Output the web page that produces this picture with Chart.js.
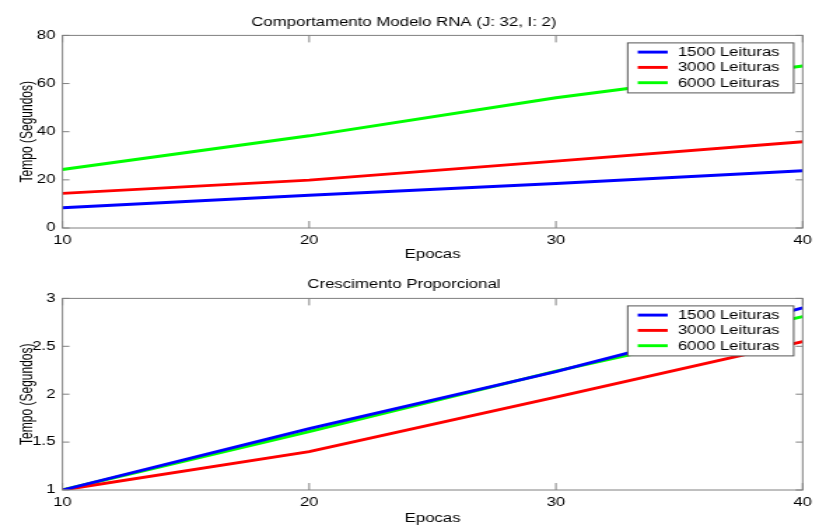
<!DOCTYPE html>
<html>
<head>
<meta charset="utf-8">
<script src="https://cdn.jsdelivr.net/npm/chart.js@4"></script>
<style>
  html, body { margin: 0; padding: 0; background: #fff; }
  canvas { display: block; }
</style>
</head>
<body>
<!-- the original figure is stretched sideways, so both canvases are drawn narrow and widened by css -->
<canvas id="chartTempo" width="585" height="262" style="width:819px;height:262px"></canvas>
<canvas id="chartProp" width="585" height="265" style="width:819px;height:265px"></canvas>
<script>
const epocas = [10, 20, 30, 40];
const nomes = ["1500 Leituras", "3000 Leituras", "6000 Leituras"];
const cores = ["#0000ff", "#ff0000", "#00ff00"];

// top panel, seconds
const tempo1500 = [8.4, 13.6, 18.5, 23.8];
const tempo3000 = [14.4, 19.9, 27.8, 35.8];
const tempo6000 = [24.3, 38.3, 54.1, 67.3];

// bottom panel, ratio to the 10 epoch run
const prop1500 = [1, 1.64, 2.235, 2.90];
const prop3000 = [1, 1.40, 1.97, 2.55];
const prop6000 = [1, 1.61, 2.24, 2.81];

const FONT = "'Liberation Sans', Arial, sans-serif";
const LW = 2.9;

function byId(id){ return document.getElementById(id); }
function pts(ys){ return ys.map((y, i) => ({ x: epocas[i], y })); }

// box round the plot, inward ticks on all four sides, legend in the top right corner
const matlabAxes = {
  id: "matlabAxes",
  afterDatasetsDraw(chart){
    const { ctx, chartArea: a, scales } = chart;
    ctx.save();
    ctx.strokeStyle = "#808080";
    ctx.lineWidth = 1;
    ctx.strokeRect(a.left, a.top, a.right - a.left, a.bottom - a.top);
    ctx.beginPath();
    scales.x.ticks.forEach(t => {
      const px = scales.x.getPixelForValue(t.value);
      ctx.moveTo(px, a.bottom); ctx.lineTo(px, a.bottom - 7);
      ctx.moveTo(px, a.top); ctx.lineTo(px, a.top + 7);
    });
    scales.y.ticks.forEach(t => {
      const py = scales.y.getPixelForValue(t.value);
      ctx.moveTo(a.left, py); ctx.lineTo(a.left + 5, py);
      ctx.moveTo(a.right, py); ctx.lineTo(a.right - 5, py);
    });
    ctx.stroke();

    // legend
    const bw = 118.6, bh = 50;
    const bx = a.right - 6.4 - bw, by = a.top + 7.5;
    ctx.fillStyle = "#fff";
    ctx.fillRect(bx, by, bw, bh);
    ctx.strokeStyle = "#555";
    ctx.strokeRect(bx, by, bw, bh);
    ctx.font = "12px " + FONT;
    ctx.textBaseline = "middle";
    ctx.textAlign = "left";
    chart.data.datasets.forEach((ds, i) => {
      const y = by + 9.2 + i * 15.3;
      ctx.strokeStyle = ds.borderColor;
      ctx.lineWidth = LW;
      ctx.beginPath();
      ctx.moveTo(bx + 7.2, y); ctx.lineTo(bx + 28.6, y);
      ctx.stroke();
      ctx.fillStyle = "#000";
      ctx.fillText(ds.label, bx + 35.8, y + 0.5);
    });
    ctx.restore();
  }
};

function mkChart(id, titulo, valores, yMin, yMax, yStep, tituloPad, xAltura, xTituloPad){
  const el = byId(id); if (!el) return null;
  return new Chart(el.getContext("2d"), {
    type: "line",
    data: {
      datasets: valores.map((v, i) => ({
        label: nomes[i],
        data: pts(v),
        borderColor: cores[i],
        backgroundColor: cores[i],
        borderWidth: LW,
        pointRadius: 0,
        tension: 0,
        fill: false
      }))
    },
    options: {
      responsive: false,
      animation: false,
      devicePixelRatio: 1,
      layout: { padding: { left: 0, right: 8, top: 0, bottom: 0 } },
      plugins: {
        legend: { display: false },
        tooltip: { enabled: false },
        title: {
          display: true, text: titulo, color: "#000",
          font: { family: FONT, size: 12, weight: "normal" },
          padding: tituloPad
        }
      },
      scales: {
        x: {
          type: "linear", min: 10, max: 40,
          grid: { display: false, drawTicks: false },
          border: { display: false },
          ticks: { stepSize: 10, color: "#000", padding: 5, maxRotation: 0,
                   font: { family: FONT, size: 12 } },
          title: { display: true, text: "Epocas", color: "#000",
                   font: { family: FONT, size: 12 }, padding: xTituloPad },
          afterFit(s){ s.height = xAltura; }
        },
        y: {
          min: yMin, max: yMax,
          grid: { display: false, drawTicks: false },
          border: { display: false },
          ticks: { stepSize: yStep, color: "#000", padding: 5,
                   font: { family: FONT, size: 12 },
                   callback: v => String(v) },
          title: { display: true, text: "Tempo (Segundos)", color: "#000",
                   font: { family: FONT, size: 12 }, padding: { top: 12, bottom: 0 } },
          afterFit(s){ s.width = 44.6; }
        }
      }
    },
    plugins: [matlabAxes]
  });
}

mkChart("chartTempo", "Comportamento Modelo RNA (J: 32, I: 2)",
  [tempo1500, tempo3000, tempo6000], 0, 80, 20,
  { top: 15, bottom: 6 }, 34, { top: 0, bottom: 0 });

mkChart("chartProp", "Crescimento Proporcional",
  [prop1500, prop3000, prop6000], 1, 3, 0.5,
  { top: 15.5, bottom: 6.5 }, 37, { top: 0, bottom: 1.5 });
</script>
</body>
</html>
